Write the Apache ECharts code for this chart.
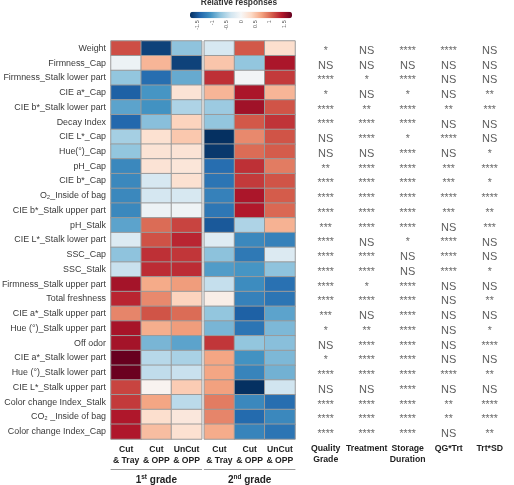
<!DOCTYPE html>
<html><head><meta charset="utf-8">
<script src="https://cdn.jsdelivr.net/npm/echarts@6/dist/echarts.min.js"></script>
<style>html,body{margin:0;padding:0;background:#fff}#c{width:514px;height:485px}</style>
</head><body><div id="c"></div>
<script>
const rowNames = ['Weight','Firmness_Cap','Firmness_Stalk lower part','CIE a*_Cap','CIE b*_Stalk lower part','Decay Index','CIE L*_Cap','Hue(°)_Cap','pH_Cap','CIE b*_Cap','O₂_Inside of bag','CIE b*_Stalk upper part','pH_Stalk','CIE L*_Stalk lower part','SSC_Cap','SSC_Stalk','Firmness_Stalk upper part','Total freshness','CIE a*_Stalk upper part','Hue (°)_Stalk upper part','Off odor','CIE a*_Stalk lower part','Hue (°)_Stalk lower part','CIE L*_Stalk upper part','Color change Index_Stalk','CO₂ _Inside of bag','Color change Index_Cap'];
const treatments = ['Cut\n& Tray','Cut\n& OPP','UnCut\n& OPP'];
const grade1Name = '{n|1}{s|st}{n| grade}';
const grade2Name = '{n|2}{s|nd}{n| grade}';
// relative responses, one array per column
const g1CutTray  = [1.15,-0.1,-0.7,-1.45,-0.95,-1.4,-0.6,-0.7,-1.15,-1.15,-1.15,-1.15,-0.95,-0.25,-0.72,-0.4,1.48,1.35,0.87,1.47,1.48,1.77,1.75,1.2,1.25,1.43,1.43];
const g1CutOPP   = [-1.65,0.6,-1.35,-1.05,-1.07,-0.75,0.28,0.25,0.25,-0.3,-0.32,-0.1,1.0,1.13,1.3,1.32,0.67,0.85,1.12,0.65,-0.82,-0.5,-0.45,0.05,0.7,0.3,0.55];
const g1UnCutOPP = [-0.72,-1.65,-0.9,0.25,-0.55,0.4,0.48,0.25,0.22,0.28,-0.3,-0.08,1.2,1.35,1.27,1.32,0.75,0.4,1.0,0.75,-0.95,-0.58,-0.4,0.45,-0.48,0.2,0.28];
const g2CutTray  = [-0.3,0.5,1.3,0.6,-0.65,-0.7,-1.77,-1.72,-1.35,-1.3,-1.2,-1.28,-1.5,-0.22,-0.73,-1.0,-0.42,0.12,-0.7,-0.82,1.27,0.7,0.7,0.73,0.92,0.87,0.66];
const g2CutOPP   = [1.1,-0.7,-0.05,1.45,1.5,1.1,0.85,1.0,1.3,1.25,1.45,1.42,-0.55,-1.15,-1.27,-1.05,-1.12,-1.2,-1.45,-1.3,-0.7,-1.07,-1.18,-1.77,-1.15,-1.38,-1.18];
const g2UnCutOPP = [0.3,1.45,1.25,0.6,1.12,1.28,1.12,1.08,0.92,1.12,1.08,1.02,0.62,-1.2,-0.25,-0.72,-1.33,-1.3,-0.95,-0.8,-0.75,-0.8,-0.85,-0.35,-1.35,-1.15,-1.3];
// significance table
const sigHeaders = ['Quality\nGrade','Treatment','Storage\nDuration','QG*Trt','Trt*SD'];
const sigQualityGrade = ['*','NS','****','*','****','****','NS','NS','**','****','****','****','***','****','****','****','****','****','***','*','NS','*','****','NS','****','****','****'];
const sigTreatment    = ['NS','NS','*','NS','**','****','****','NS','****','****','****','****','****','NS','****','****','*','****','NS','**','****','****','****','NS','****','****','****'];
const sigStorage      = ['****','NS','****','*','****','****','*','****','****','****','****','****','****','*','NS','NS','****','****','****','****','****','****','****','****','****','****','****'];
const sigQGTrt        = ['****','NS','NS','NS','**','NS','****','NS','***','***','****','***','NS','****','****','****','NS','NS','NS','NS','NS','NS','****','NS','**','**','NS'];
const sigTrtSD        = ['NS','NS','NS','**','***','NS','NS','*','****','*','****','**','***','NS','NS','*','NS','**','NS','*','****','NS','**','NS','****','****','**'];
const colorbarTicks = [-1.5,-1,-0.5,0,0.5,1,1.5];
const scaleMin = -1.77, scaleMax = 1.77;

const SANS = "'Liberation Sans', Arial, sans-serif";

function cells(cols){
  const out = [];
  cols.forEach((arr, c) => arr.forEach((v, r) => out.push([c, r, v])));
  return out;
}
const sigCols = [sigQualityGrade, sigTreatment, sigStorage, sigQGTrt, sigTrtSD];
const sigText = [];
const sigData = [];
sigCols.forEach((arr, c) => arr.forEach((t, r) => { sigData.push([c, r]); sigText.push(t); }));

const gridTop = 41, gridH = 398;
const chart = echarts.init(document.getElementById('c'), null, {renderer: 'canvas'});
const groupNameStyle = {
  rich: {
    n: {fontSize: 10, fontWeight: 'bold', fontFamily: SANS, color: '#222', lineHeight: 12},
    s: {fontSize: 6.5, fontWeight: 'bold', fontFamily: SANS, color: '#222', verticalAlign: 'top'}
  }
};
const catX = (gi) => ({
  type: 'category', gridIndex: gi, data: treatments, position: 'bottom',
  axisLine: {show: false}, axisTick: {show: false},
  axisLabel: {fontSize: 8.6, fontWeight: 'bold', fontFamily: SANS, color: '#222', lineHeight: 11, margin: 5, interval: 0}
});
const groupX = (gi, name) => ({
  type: 'category', gridIndex: gi, data: treatments, position: 'bottom', offset: 30,
  axisLine: {show: true, lineStyle: {color: '#9a9a9a', width: 1}}, axisTick: {show: false}, axisLabel: {show: false},
  name: name, nameLocation: 'middle', nameGap: 5, nameTextStyle: groupNameStyle
});
const catY = (gi, showLabels) => ({
  type: 'category', gridIndex: gi, data: rowNames, inverse: true,
  axisLine: {show: false}, axisTick: {show: false},
  axisLabel: {show: showLabels, fontSize: 8.9, fontFamily: SANS, color: '#3a3a3a', margin: 5, interval: 0}
});
const G = {outerBoundsMode: 'none', containLabel: false};

chart.setOption({
  animation: false,
  backgroundColor: '#fff',
  title: {
    text: 'Relative responses', left: 239, top: -1.5, textAlign: 'center', padding: 0,
    textStyle: {fontSize: 8.4, fontWeight: 'bold', fontFamily: SANS, color: '#333'}
  },
  grid: [
    Object.assign({left: 111, width: 90.7, top: gridTop, height: gridH}, G),
    Object.assign({left: 204.3, width: 90.7, top: gridTop, height: gridH}, G),
    Object.assign({left: 305.2, width: 205, top: gridTop + 2.5, height: gridH}, G),
    Object.assign({left: 190, width: 102, top: 11.7, height: 6.6}, G)
  ],
  xAxis: [
    catX(0), catX(1),
    {type: 'category', gridIndex: 2, data: sigHeaders, position: 'bottom',
     axisLine: {show: false}, axisTick: {show: false},
     axisLabel: {fontSize: 8.7, fontWeight: 'bold', fontFamily: SANS, color: '#222', lineHeight: 11, margin: 2, interval: 0}},
    {type: 'value', gridIndex: 3, min: scaleMin, max: scaleMax, position: 'bottom',
     axisLine: {show: false}, axisTick: {show: false}, splitLine: {show: false},
     axisLabel: {customValues: colorbarTicks, rotate: 90, fontSize: 5.5, fontFamily: SANS, color: '#555', margin: 2}},
    groupX(0, grade1Name), groupX(1, grade2Name)
  ],
  yAxis: [
    catY(0, true), catY(1, false), catY(2, false),
    {type: 'value', gridIndex: 3, show: false, min: 0, max: 1}
  ],
  visualMap: {
    type: 'continuous', min: scaleMin, max: scaleMax, orient: 'horizontal',
    left: 190, top: 11.7, itemWidth: 6.6, itemHeight: 102, padding: 0,
    calculable: false, text: null, showLabel: false, seriesIndex: [0, 1],
    inRange: {color: ['#053061','#2166ac','#4393c3','#92c5de','#d1e5f0','#f7f7f7','#fddbc7','#f4a582','#d6604d','#b2182b','#67001f']}
  },
  series: [
    {type: 'heatmap', xAxisIndex: 0, yAxisIndex: 0, data: cells([g1CutTray, g1CutOPP, g1UnCutOPP]),
     itemStyle: {borderColor: '#9a9a9a', borderWidth: 1}, emphasis: {disabled: true}},
    {type: 'heatmap', xAxisIndex: 1, yAxisIndex: 1, data: cells([g2CutTray, g2CutOPP, g2UnCutOPP]),
     itemStyle: {borderColor: '#9a9a9a', borderWidth: 1}, emphasis: {disabled: true}},
    {type: 'scatter', xAxisIndex: 2, yAxisIndex: 2, data: sigData, symbolSize: 1,
     itemStyle: {color: 'rgba(0,0,0,0)'},
     label: {show: true, position: 'inside', formatter: p => sigText[p.dataIndex] === 'NS' ? '{ns|NS}' : '{st|' + sigText[p.dataIndex] + '}',
       rich: {ns: {fontSize: 11, fontFamily: SANS, color: '#333'}, st: {fontSize: 10.5, fontFamily: SANS, color: '#444'}}}}
  ]
});
</script>
</body></html>
